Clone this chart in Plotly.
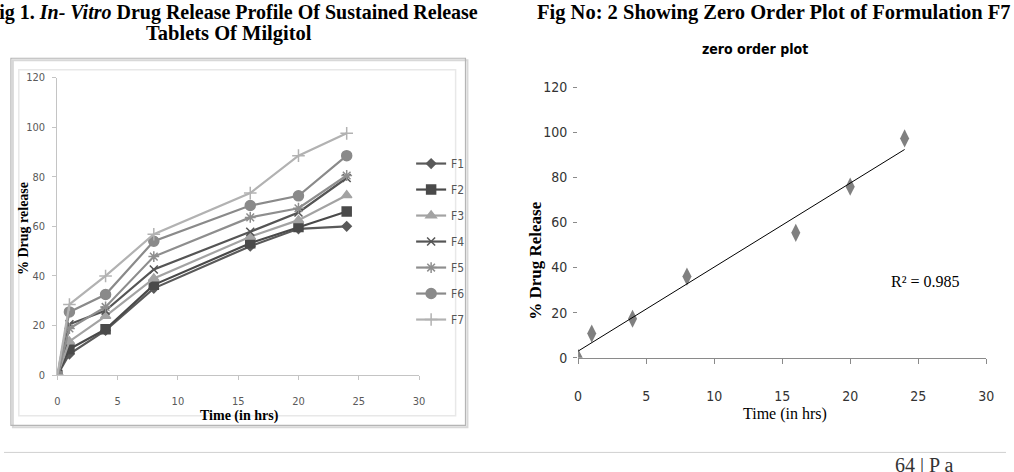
import numpy as np
import plotly.graph_objects as go

W, H = 1014, 472

# ---------------- data ----------------
time_hrs = [0, 1, 4, 8, 16, 20, 24]
formulations = ["F1", "F2", "F3", "F4", "F5", "F6", "F7"]
F1 = [0, 8.5, 18.0, 35.0, 52.0, 59.0, 60.0]
F2 = [0, 10.5, 18.5, 36.4, 53.2, 59.7, 66.0]
F3 = [0, 13.6, 23.8, 39.0, 55.8, 62.5, 72.5]
F4 = [0, 20.5, 26.0, 42.6, 57.8, 65.6, 79.5]
F5 = [0, 18.8, 27.5, 47.8, 63.6, 67.3, 80.5]
F6 = [0, 25.5, 32.5, 54.0, 68.4, 72.3, 88.5]
F7 = [0, 28.5, 40.0, 56.8, 73.4, 88.5, 97.5]

f7_time = [0, 1, 4, 8, 16, 20, 24]
f7_release = [0, 10.7, 17.3, 36.0, 55.4, 75.9, 97.3]
r2_label = "R² = 0.985"

x_ticks = [0, 5, 10, 15, 20, 25, 30]
y_ticks = [0, 20, 40, 60, 80, 100, 120]

# ---------------- styles ----------------
series = [F1, F2, F3, F4, F5, F6, F7]
colors = ["#5a5a5a", "#4a4a4a", "#a3a3a3", "#555555", "#8e8e8e", "#8a8a8a", "#b2b2b2"]
symbols = ["diamond", "square", "triangle-up", "x-thin-open", "asterisk-open", "circle", "cross-thin-open"]
msizes = [7, 9, 9, 8, 9, 10, 9]

NARROW = "Liberation Sans Narrow, DejaVu Sans Condensed, Arial Narrow, Liberation Sans, sans-serif"
SERIF = "Liberation Serif, Times New Roman, serif"


def px(x):
    return x / W


def py(y):
    return 1 - y / H


fig = go.Figure()

for i, (name, vals) in enumerate(zip(formulations, series)):
    fig.add_trace(go.Scatter(
        x=time_hrs, y=vals, name=name, mode="lines+markers",
        line=dict(color=colors[i], width=2.2),
        marker=dict(symbol=symbols[i], size=msizes[i], color=colors[i],
                    line=dict(color=colors[i], width=1.5)),
        legendgroup=name, xaxis="x", yaxis="y",
    ))

# zero order plot of F7
fig.add_trace(go.Scatter(
    x=f7_time, y=f7_release, mode="markers", showlegend=False,
    marker=dict(symbol="diamond-tall", size=13, color="#808080"),
    xaxis="x2", yaxis="y2",
))
slope, intercept = np.polyfit(f7_time, f7_release, 1)
fit_x = [min(f7_time), max(f7_time)]
fit_y = [intercept + slope * v for v in fit_x]
fig.add_trace(go.Scatter(
    x=fit_x, y=fit_y, mode="lines", showlegend=False,
    line=dict(color="black", width=1), xaxis="x2", yaxis="y2",
))

tick_font_l = dict(family=NARROW, size=11, color="#5a5a5a")
tick_font_r = dict(family=NARROW, size=14, color="#333333")

fig.update_layout(
    width=W, height=H,
    margin=dict(l=0, r=0, t=0, b=0),
    paper_bgcolor="white", plot_bgcolor="white",
    xaxis=dict(domain=[px(54), px(420)], range=[0, 30], tickvals=x_ticks,
               showgrid=False, zeroline=False, showline=True, linecolor="#c4c4c4",
               ticks="outside", ticklen=4, tickcolor="#c4c4c4",
               tickfont=tick_font_l, ticklabelstandoff=12, anchor="y"),
    yaxis=dict(domain=[py(380), py(72)], range=[0, 120], tickvals=y_ticks,
               showgrid=False, zeroline=False, showline=True, linecolor="#c4c4c4",
               ticks="outside", ticklen=4, tickcolor="#c4c4c4",
               tickfont=tick_font_l, ticklabelstandoff=5, anchor="x"),
    xaxis2=dict(domain=[px(581), px(994)], range=[0, 30], tickvals=x_ticks,
                showgrid=False, zeroline=False, showline=True, linecolor="#8a8a8a",
                ticks="outside", ticklen=5, tickcolor="#8a8a8a",
                tickfont=tick_font_r, ticklabelstandoff=20, anchor="y2"),
    yaxis2=dict(domain=[py(362), py(82)], range=[0, 120], tickvals=y_ticks,
                showgrid=False, zeroline=False, showline=False,
                ticks="outside", ticklen=4, tickcolor="#8a8a8a",
                tickfont=tick_font_r, ticklabelstandoff=3, anchor="x2"),
    legend=dict(x=px(412), y=py(146), xanchor="left", yanchor="top",
                font=dict(family=NARROW, size=12, color="#555555"),
                tracegroupgap=7, itemwidth=30, bgcolor="rgba(0,0,0,0)"),
    showlegend=True,
)

ann = []
ann.append(dict(text="<b>Fig 1. <i>In- Vitro</i> Drug Release Profile Of Sustained Release</b>",
                x=px(231), y=py(5), xanchor="center", yanchor="middle",
                font=dict(family=SERIF, size=20, color="black")))
ann.append(dict(text="<b>Tablets Of Milgitol</b>",
                x=px(228), y=py(26), xanchor="center", yanchor="middle",
                font=dict(family=SERIF, size=20.5, color="black")))
ann.append(dict(text="<b>Fig No: 2 Showing Zero Order Plot of Formulation F7</b>",
                x=px(779), y=py(5), xanchor="center", yanchor="middle",
                font=dict(family=SERIF, size=20.5, color="black")))
ann.append(dict(text="<b>zero order plot</b>",
                x=px(760), y=py(42), xanchor="center", yanchor="middle",
                font=dict(family=NARROW, size=14, color="black")))
ann.append(dict(text="<b>% Drug release</b>", textangle=-90,
                x=px(20), y=py(228), xanchor="center", yanchor="middle",
                font=dict(family=SERIF, size=14, color="black")))
ann.append(dict(text="<b>Time (in hrs)</b>",
                x=px(238), y=py(422), xanchor="center", yanchor="middle",
                font=dict(family=SERIF, size=14, color="black")))
ann.append(dict(text="<b>% Drug Release</b>", textangle=-90,
                x=px(537), y=py(262), xanchor="center", yanchor="middle",
                font=dict(family=SERIF, size=17, color="black")))
ann.append(dict(text="Time (in hrs)",
                x=px(790), y=py(420), xanchor="center", yanchor="middle",
                font=dict(family=SERIF, size=16, color="black")))
ann.append(dict(text=r2_label,
                x=px(933), y=py(283), xanchor="center", yanchor="middle",
                font=dict(family=SERIF, size=16, color="black")))
ann.append(dict(text="64 | P a",
                x=px(900), y=py(460), xanchor="left", yanchor="top",
                font=dict(family=SERIF, size=20, color="#333333")))
for a in ann:
    a.update(xref="paper", yref="paper", showarrow=False)
fig.update_layout(annotations=ann)

shapes = [
    # shadow of the chart frame
    dict(type="rect", x0=px(9), x1=px(469), y0=py(54), y1=py(434),
         line=dict(color="#d8d8d8", width=2)),
    # outer chart frame
    dict(type="rect", x0=px(7), x1=px(467), y0=py(52), y1=py(432),
         line=dict(color="#b5b5b5", width=1.2)),
    # inner chart panel
    dict(type="rect", x0=px(15), x1=px(457), y0=py(64), y1=py(422),
         line=dict(color="#e8e8e8", width=1.5)),
    # page footer rule
    dict(type="line", x0=0, x1=1, y0=py(460), y1=py(460),
         line=dict(color="#d0d0d0", width=1)),
]
for s in shapes:
    s.update(xref="paper", yref="paper", layer="below")
fig.update_layout(shapes=shapes)

fig.write_html("out.html")
